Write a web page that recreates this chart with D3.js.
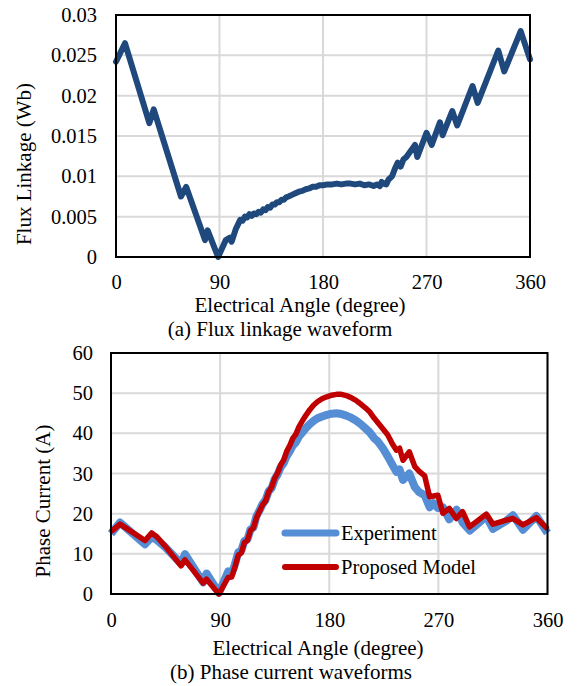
<!DOCTYPE html>
<html>
<head>
<meta charset="utf-8">
<script src="https://cdn.jsdelivr.net/npm/d3@7/dist/d3.min.js"></script>
<style>
  html, body { margin: 0; padding: 0; background: #fff; }
  svg { display: block; }
  svg text { font-family: "Liberation Serif", "Times New Roman", Times, "Noto Serif", "DejaVu Serif", serif; fill: #000; }
</style>
</head>
<body>
<svg id="fig" width="577" height="686"></svg>
<script>
// ---- (a) flux linkage: [electrical angle (deg), flux linkage (Wb)]
const fluxLinkage = [
  [0, 0.0242], [7.8, 0.0265], [29, 0.0166], [32.8, 0.0183], [56.5, 0.0075], [61, 0.0087],
  [77.4, 0.0021], [79.7, 0.0033], [88.8, 0.0000], [95.5, 0.0021], [99, 0.0024], [100.6, 0.0019],
  [104, 0.0034], [108, 0.0046], [110, 0.0045], [112, 0.0050], [114, 0.0049], [116, 0.0053],
  [118, 0.0051], [120, 0.0054], [122, 0.0053], [124, 0.0056], [126, 0.0055], [128, 0.0059],
  [130, 0.0058], [132, 0.0062], [134, 0.0061], [136, 0.0065], [138, 0.0065], [140, 0.0068],
  [142, 0.0068], [144, 0.0071], [146, 0.0071], [148, 0.0074], [150, 0.0075], [153, 0.0077],
  [156, 0.0079], [159, 0.0081], [162, 0.0082], [165, 0.0084], [168, 0.0085], [171, 0.0087],
  [174, 0.0087], [177, 0.0089], [180, 0.0089], [184, 0.0090], [188, 0.0090], [192, 0.0091],
  [196, 0.0090], [200, 0.0091], [204, 0.0091], [208, 0.0090], [212, 0.0091], [216, 0.0089],
  [220, 0.0090], [224, 0.0088], [227, 0.0090], [229.5, 0.0088], [231, 0.0093], [233, 0.0091],
  [235, 0.0090], [237, 0.0096], [240, 0.0100], [243, 0.0111], [245, 0.0117], [247.5, 0.0112],
  [250, 0.0121], [252.5, 0.0124], [260, 0.0139], [262, 0.0124], [270, 0.0154], [274.5, 0.0139],
  [281.7, 0.0167], [284, 0.0151], [292.4, 0.0181], [296.7, 0.0163], [310, 0.0212], [314.5, 0.0191],
  [332.4, 0.0256], [337.6, 0.0230], [351.9, 0.0280], [360, 0.0245]
];

// ---- (b) phase current: [electrical angle (deg), current (A)]
const experiment = [
  [0, 15.0], [7.4, 17.8], [28, 12.4], [33.5, 14.2], [38, 13.4], [45, 11.6], [57.7, 7.6], [61, 9.9],
  [76, 2.9], [78.8, 5.1], [89, 0.3], [96.6, 5.6], [99.5, 5.2], [102, 7.2], [105, 10.4], [107.5, 10.8],
  [110, 13.2], [112.5, 13.6], [115, 16.0], [117.5, 16.6], [120, 19.4], [122.5, 20.8], [125, 22.4],
  [127.5, 23.4], [130, 25.6], [132.5, 26.4], [135, 28.6], [137.5, 29.8], [140, 31.6], [142.5, 32.6],
  [145, 34.4], [147.5, 35.6], [150, 37.0], [152.5, 37.8], [155, 39.2], [158, 40.3], [161, 41.4],
  [164, 42.3], [167, 43.1], [170, 43.7], [174, 44.2], [178, 44.6], [182, 44.9], [186, 45.0],
  [190, 44.8], [194, 44.4], [198, 43.9], [202, 43.2], [206, 42.3], [210, 41.2], [213.5, 40.2],
  [217, 38.8], [220, 38.0], [224, 36.4], [228, 34.4], [232, 32.2], [235.4, 30.4], [238, 31.0],
  [240.8, 28.4], [246, 30.0], [250.6, 26.6], [254, 25.4], [258.7, 24.6], [262.8, 21.6], [266, 22.6],
  [269.6, 21.4], [273.7, 21.6], [279, 18.6], [285, 21.0], [290, 17.8], [296, 15.8], [303, 17.6],
  [309.5, 19.4], [315, 16.2], [326, 18.2], [331.5, 19.6], [339.8, 16.0], [350.8, 19.4], [360, 15.2]
];

const proposedModel = [
  [0, 15.5], [7.4, 17.4], [28, 13.3], [33.5, 15.2], [38, 14.2], [45, 11.8], [57.7, 7.0], [61, 8.5],
  [76, 2.7], [78.8, 3.7], [89, 0.0], [96.6, 4.1], [99.5, 4.2], [102, 6.5], [105, 9.7], [107.5, 10.2],
  [110, 12.8], [112.5, 13.3], [115, 15.8], [117.5, 16.5], [120, 19.0], [122.5, 20.6], [125, 22.2],
  [127.5, 23.2], [130, 25.4], [132.5, 26.6], [135, 28.8], [137.5, 30.2], [140, 32.2], [142.5, 33.4],
  [145, 35.6], [147.5, 37.0], [150, 38.8], [152.5, 39.8], [155, 41.6], [158, 43.2], [161, 44.6],
  [164, 45.9], [167, 47.0], [170, 47.8], [174, 48.6], [178, 49.1], [182, 49.5], [186, 49.7],
  [190, 49.7], [194, 49.4], [198, 48.9], [202, 48.2], [206, 47.3], [210, 46.3], [213.5, 45.3],
  [217, 43.8], [220, 42.7], [224, 41.2], [228, 39.7], [230, 38.6], [232, 37.4], [235.4, 35.8],
  [238, 36.3], [240.8, 33.3], [246, 35.4], [250.6, 31.7], [254, 30.6], [258.7, 29.4], [262.8, 24.2],
  [269.6, 24.6], [273.7, 20.1], [279, 21.3], [284.8, 18.8], [290, 20.5], [295.7, 16.7], [303, 18.4],
  [309.5, 19.9], [315, 17.4], [326, 18.4], [331.5, 18.8], [339.8, 17.2], [350.8, 19.0], [360, 16.2]
];

// ---- tick labels
const angleTicks = [0, 90, 180, 270, 360];
const fluxTicks = [0, 0.005, 0.01, 0.015, 0.02, 0.025, 0.03];
const fluxTickLabels = ["0", "0.005", "0.01", "0.015", "0.02", "0.025", "0.03"];
const currentTicks = [0, 10, 20, 30, 40, 50, 60];

const seriesNames = ["Experiment", "Proposed Model"];
const seriesColors = ["#558ED5", "#C00000"];

const svg = d3.select("#fig");
const TICK_FONT = 20.5;
const TITLE_FONT = 21;
const SERIF = '"Liberation Serif", "Times New Roman", Times, "Noto Serif", "DejaVu Serif", serif';

function label(sel, size) {
  return sel.style("font-family", SERIF).style("font-size", size + "px").attr("fill", "#000");
}

function panel(opts) {
  const { x, y, yTicks, yFormat, xPad, yPad } = opts;
  const g = svg.append("g");
  const [x0, x1] = x.range();
  const [y0, y1] = y.range();

  // grid
  g.append("g").selectAll("line").data(yTicks).join("line")
    .attr("x1", x0).attr("x2", x1).attr("y1", d => y(d)).attr("y2", d => y(d))
    .attr("stroke", "#d9d9d9").attr("stroke-width", 2);
  g.append("g").selectAll("line").data(angleTicks).join("line")
    .attr("x1", d => x(d)).attr("x2", d => x(d)).attr("y1", y0).attr("y2", y1)
    .attr("stroke", "#d9d9d9").attr("stroke-width", 2);

  // axes (labels only; frame drawn separately)
  const ax = g.append("g").attr("transform", `translate(0,${y0})`)
    .call(d3.axisBottom(x).tickValues(angleTicks).tickSize(0).tickPadding(xPad));
  const ay = g.append("g").attr("transform", `translate(${x0},0)`)
    .call(d3.axisLeft(y).tickValues(yTicks).tickSize(0).tickPadding(yPad).tickFormat(yFormat));
  [ax, ay].forEach(a => {
    a.attr("font-family", null).attr("font-size", null);
    a.select(".domain").remove();
    label(a.selectAll("text"), TICK_FONT);
  });
  return g;
}

function frame(x, y) {
  const [x0, x1] = x.range();
  const [y0, y1] = y.range();
  svg.append("rect").attr("x", x0).attr("y", y1).attr("width", x1 - x0).attr("height", y0 - y1)
    .attr("fill", "none").attr("stroke", "#000").attr("stroke-width", 2);
}

function title(x, y, text, rotate) {
  const t = svg.append("text").attr("text-anchor", "middle").text(text);
  if (rotate) t.attr("transform", `translate(${x},${y}) rotate(-90)`);
  else t.attr("x", x).attr("y", y);
  label(t, TITLE_FONT);
}

// ===== (a) Flux linkage waveform =====
const xa = d3.scaleLinear().domain([0, 360]).range([116, 530]);
const ya = d3.scaleLinear().domain([0, 0.03]).range([257, 15]);
panel({ x: xa, y: ya, yTicks: fluxTicks, yFormat: (d, i) => fluxTickLabels[i], xPad: 17, yPad: 19 });

const lineA = d3.line().x(d => xa(d[0])).y(d => ya(d[1]));
svg.append("path").datum(fluxLinkage).attr("d", lineA)
  .attr("fill", "none").attr("stroke", "#1F497D").attr("stroke-width", 6)
  .attr("stroke-linejoin", "round").attr("stroke-linecap", "round");
frame(xa, ya);

title(31, 164, "Flux Linkage (Wb)", true);
title(300, 312, "Electrical Angle (degree)");
title(280, 336, "(a) Flux linkage waveform");

// ===== (b) Phase current waveforms =====
const xb = d3.scaleLinear().domain([0, 360]).range([111, 547.5]);
const yb = d3.scaleLinear().domain([0, 60]).range([594, 353]);
panel({ x: xb, y: yb, yTicks: currentTicks, yFormat: d3.format("d"), xPad: 18, yPad: 18 });

const lineB = d3.line().x(d => xb(d[0])).y(d => yb(d[1]));
svg.append("path").datum(experiment).attr("d", lineB)
  .attr("fill", "none").attr("stroke", seriesColors[0]).attr("stroke-width", 8)
  .attr("stroke-linejoin", "round");
svg.append("path").datum(proposedModel).attr("d", lineB)
  .attr("fill", "none").attr("stroke", seriesColors[1]).attr("stroke-width", 5.5)
  .attr("stroke-linejoin", "round");
frame(xb, yb);

// legend
const legend = svg.append("g").attr("transform", "translate(283,533)");
seriesNames.forEach((name, i) => {
  const row = legend.append("g").attr("transform", `translate(0,${i * 34})`);
  row.append("line").attr("x1", 2).attr("x2", 53).attr("y1", 0).attr("y2", 0)
    .attr("stroke", seriesColors[i]).attr("stroke-width", i === 0 ? 7 : 6).attr("stroke-linecap", "round");
  label(row.append("text").attr("x", 58).attr("y", 7).text(name), TICK_FONT);
});

title(50, 501, "Phase Current (A)", true);
title(318, 655, "Electrical Angle (degree)");
title(291, 679, "(b) Phase current waveforms");
</script>
</body>
</html>
